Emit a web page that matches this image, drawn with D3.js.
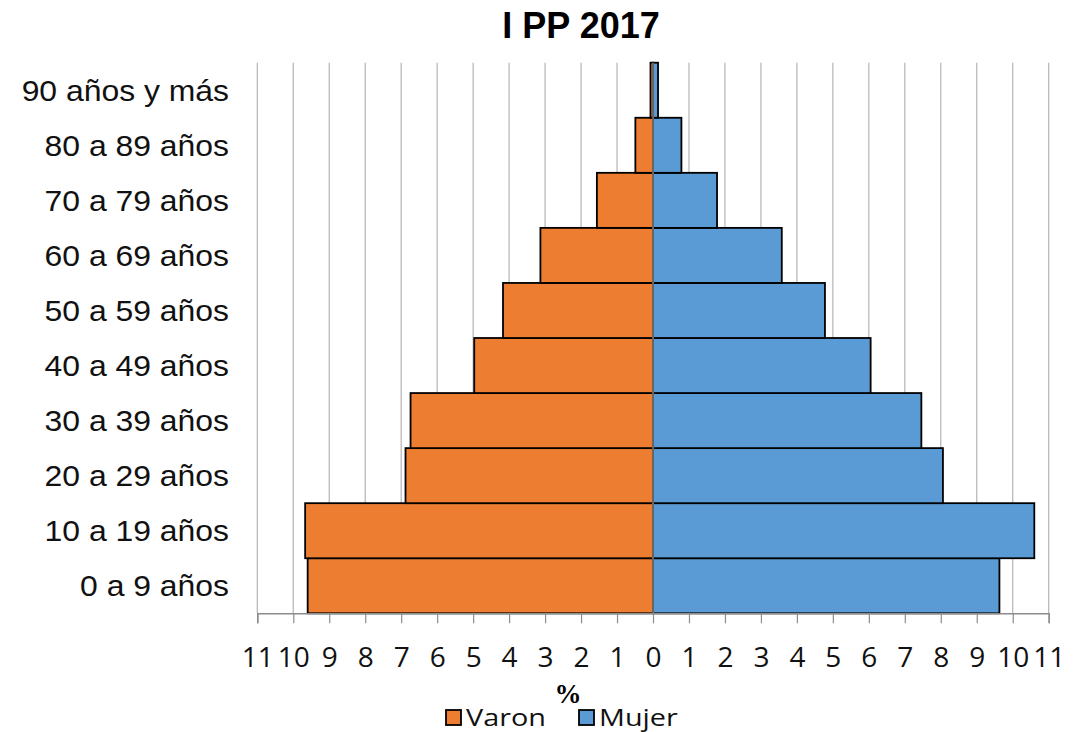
<!DOCTYPE html>
<html>
<head>
<meta charset="utf-8">
<script src="https://cdn.jsdelivr.net/npm/d3@7"></script>
<style>
  body { margin: 0; background: #fff; }
</style>
</head>
<body>
<div id="chart"></div>
<script>
// grupos de edad, de abajo hacia arriba
const categories = ["0 a 9 años", "10 a 19 años", "20 a 29 años", "30 a 39 años", "40 a 49 años",
  "50 a 59 años", "60 a 69 años", "70 a 79 años", "80 a 89 años", "90 años y más"];
// porcentajes
const varon = [9.60, 9.67, 6.88, 6.74, 4.97, 4.17, 3.13, 1.56, 0.49, 0.07];
const mujer = [9.63, 10.60, 8.06, 7.46, 6.05, 4.78, 3.58, 1.78, 0.79, 0.14];
const ticks = d3.range(-11, 12);
const titulo = "I PP 2017";

var width = 1081, height = 732;
var svg = d3.select("#chart").append("svg").attr("width", width).attr("height", height);

// escalas
var x = d3.scaleLinear().domain([-11, 11]).range([257.3, 1048.7]);
var y = d3.scaleBand().domain(categories.slice().reverse()).range([62.7, 613.3]).padding(0);

// lineas de la grilla
svg.append("g")
  .selectAll("line")
  .data(ticks)
  .enter().append("line")
  .attr("x1", d => x(d)).attr("x2", d => x(d))
  .attr("y1", y.range()[0]).attr("y2", y.range()[1])
  .attr("stroke", "#b4b4b4")
  .attr("stroke-width", 1.2);

// barras varon (a la izquierda)
svg.append("g")
  .selectAll("rect")
  .data(categories)
  .enter().append("rect")
  .attr("x", (d, i) => x(-varon[i]))
  .attr("y", d => y(d))
  .attr("width", (d, i) => x(0) - x(-varon[i]))
  .attr("height", y.bandwidth())
  .attr("fill", "#ED7D31")
  .attr("stroke", "#000")
  .attr("stroke-width", 1.8);

// barras mujer (a la derecha)
svg.append("g")
  .selectAll("rect")
  .data(categories)
  .enter().append("rect")
  .attr("x", x(0))
  .attr("y", d => y(d))
  .attr("width", (d, i) => x(mujer[i]) - x(0))
  .attr("height", y.bandwidth())
  .attr("fill", "#5B9BD5")
  .attr("stroke", "#000")
  .attr("stroke-width", 1.8);

// eje vertical en cero
svg.append("line")
  .attr("x1", x(0)).attr("x2", x(0))
  .attr("y1", y.range()[0]).attr("y2", y.range()[1])
  .attr("stroke", "#666")
  .attr("stroke-width", 2);

// eje x
var xAxis = d3.axisBottom(x)
  .tickValues(ticks)
  .tickSize(10)
  .tickPadding(24)
  .tickFormat(d => Math.abs(d));

var gx = svg.append("g")
  .attr("transform", "translate(0," + y.range()[1] + ")")
  .call(xAxis);
gx.select(".domain").attr("stroke", "#8c8c8c").attr("stroke-width", 1.5);
gx.selectAll(".tick line").attr("stroke", "#8c8c8c").attr("stroke-width", 1.2);
gx.selectAll(".tick text")
  .attr("fill", "#111")
  .style("font-family", "Open Sans, sans-serif")
  .style("font-size", "28px");

// etiquetas de categorias
svg.append("g")
  .selectAll("text")
  .data(categories)
  .enter().append("text")
  .attr("transform", d => "translate(229," + (y(d) + y.bandwidth() / 2) + ") scale(1.1,1)")
  .attr("text-anchor", "end")
  .attr("dy", "0.36em")
  .style("font-family", "Liberation Sans, Arial, sans-serif")
  .style("font-size", "29px")
  .attr("fill", "#111")
  .text(d => d);

// titulo
svg.append("text")
  .attr("x", 581).attr("y", 38)
  .attr("text-anchor", "middle")
  .style("font-family", "Liberation Sans, Arial, sans-serif")
  .style("font-weight", "bold")
  .style("font-size", "36px")
  .text(titulo);

// titulo del eje
svg.append("text")
  .attr("x", 568).attr("y", 703)
  .attr("text-anchor", "middle")
  .style("font-family", "Liberation Serif, serif")
  .style("font-weight", "bold")
  .style("font-size", "27px")
  .text("%");

// leyenda
var legend_keys = [
  { name: "Varon", color: "#ED7D31", x: 446 },
  { name: "Mujer", color: "#5B9BD5", x: 579 }
];
var lg = svg.selectAll(".legend").data(legend_keys)
  .enter().append("g")
  .attr("class", "legend");
lg.append("rect")
  .attr("x", d => d.x).attr("y", 710)
  .attr("width", 15).attr("height", 15)
  .attr("fill", d => d.color)
  .attr("stroke", "#000")
  .attr("stroke-width", 1.8);
lg.append("text")
  .attr("transform", d => "translate(" + (d.x + 20) + ",726) scale(1.2,1)")
  .style("font-family", "Open Sans, sans-serif")
  .style("font-size", "24px")
  .attr("fill", "#111")
  .text(d => d.name);
</script>
</body>
</html>
